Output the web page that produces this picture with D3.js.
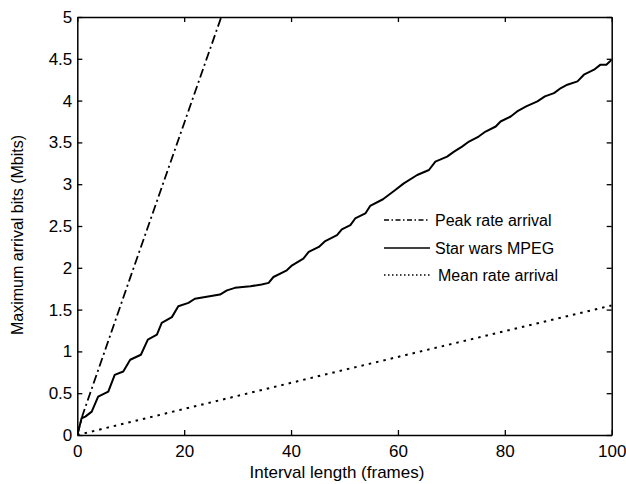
<!DOCTYPE html>
<html>
<head>
  <meta charset="utf-8">
  <title>Maximum arrival bits vs interval length</title>
  <script src="https://d3js.org/d3.v7.min.js"></script>
  <style>
    body { margin: 0; background: #fff; }
    text { font-family: "Liberation Sans", Arial, Helvetica, sans-serif; }
  </style>
</head>
<body>
  <script>
    // Star wars MPEG trace (frames, Mbits)
    let starX = [0, 0.8, 1.5, 2.7, 3.9, 5.8, 7.0, 8.6, 9.9, 11.9, 13.2, 14.9, 15.8, 17.7, 18.9, 20.8, 22,
      26.7, 28, 29.5, 32.4, 34.5, 35.8, 36.7, 39.2, 40.2, 42.3, 43.3, 45.2, 46.4, 48.6, 49.5, 51.1, 52,
      53.9, 54.8, 57.2, 59.5, 61.1, 63.6, 65.8, 67, 69.2, 70.5, 72, 73.3, 75.1, 76.4, 78.3, 79.2, 81.1,
      82.3, 84, 86.1, 87.5, 89.2, 90.5, 91.7, 93.6, 94.8, 96.7, 97.9, 99, 100];
    let starY = [0, 0.2, 0.22, 0.28, 0.46, 0.52, 0.72, 0.76, 0.9, 0.96, 1.14, 1.2, 1.34, 1.41, 1.54, 1.58, 1.63,
      1.68, 1.73, 1.76, 1.78, 1.8, 1.82, 1.89, 1.97, 2.03, 2.11, 2.19, 2.25, 2.32, 2.39, 2.46, 2.51, 2.59,
      2.65, 2.74, 2.82, 2.93, 3.01, 3.11, 3.17, 3.27, 3.33, 3.39, 3.45, 3.51, 3.57, 3.63, 3.69, 3.75, 3.81,
      3.87, 3.93, 3.99, 4.05, 4.09, 4.15, 4.19, 4.23, 4.31, 4.37, 4.43, 4.43, 4.49];

    // Peak rate and mean rate arrival lines
    let peakX = [0, 1, 10, 20, 30];
    let peakY = [0, 0.24, 1.9, 3.73, 5.56];
    let meanX = [0, 50, 100];
    let meanY = [0, 0.78, 1.55];

    let xTicks = [0, 20, 40, 60, 80, 100];
    let yTicks = [0, 0.5, 1, 1.5, 2, 2.5, 3, 3.5, 4, 4.5, 5];

    let legendLabels = ["Peak rate arrival", "Star wars MPEG", "Mean rate arrival"];

    let W = 626, H = 484;
    let margin = { top: 17, right: 14.3, bottom: 49, left: 77.3 };
    let width = W - margin.left - margin.right,
      height = H - margin.top - margin.bottom;

    let svg = d3.select("body").append("svg")
      .attr("width", W)
      .attr("height", H);

    let g = svg.append("g")
      .attr("transform", "translate(" + margin.left + "," + margin.top + ")");

    let x = d3.scaleLinear().domain([0, 100]).range([0, width]);
    let y = d3.scaleLinear().domain([0, 5]).range([height, 0]);

    svg.append("clipPath").attr("id", "plot")
      .append("rect").attr("width", width).attr("height", height);

    let zip = (xs, ys) => xs.map((v, i) => [v, ys[i]]);
    let line = d3.line().x(d => x(d[0])).y(d => y(d[1]));

    let lines = g.append("g").attr("clip-path", "url(#plot)")
      .attr("fill", "none").attr("stroke", "#000");

    lines.append("path")
      .attr("d", line(zip(peakX, peakY)))
      .attr("stroke-width", 1.8)
      .attr("stroke-dasharray", "9,3.5,2,3.5");

    lines.append("path")
      .attr("d", line(zip(starX, starY)))
      .attr("stroke-width", 2)
      .attr("stroke-linejoin", "round");

    lines.append("path")
      .attr("d", line(zip(meanX, meanY)))
      .attr("stroke-width", 2)
      .attr("stroke-dasharray", "2.5,5");

    // axes, ticks pointing inward, on all four sides
    let fmt = d3.format("~g");
    g.append("g")
      .attr("transform", "translate(0," + height + ")")
      .call(d3.axisBottom(x).tickValues(xTicks).tickFormat(fmt).tickSizeInner(-5).tickSizeOuter(0).tickPadding(10));
    g.append("g")
      .call(d3.axisLeft(y).tickValues(yTicks).tickFormat(fmt).tickSizeInner(-5).tickSizeOuter(0).tickPadding(5));
    g.append("g")
      .call(d3.axisTop(x).tickValues(xTicks).tickFormat("").tickSizeInner(-5).tickSizeOuter(0));
    g.append("g")
      .attr("transform", "translate(" + width + ",0)")
      .call(d3.axisRight(y).tickValues(yTicks).tickFormat("").tickSizeInner(-5).tickSizeOuter(0));

    g.selectAll(".domain").attr("stroke", "#000").attr("stroke-width", 1.5);
    g.selectAll(".tick line").attr("stroke", "#000").attr("stroke-width", 1.3);
    g.selectAll(".tick text").attr("font-size", 17).attr("fill", "#000")
      .style("font-family", "'Liberation Sans', Arial, Helvetica, sans-serif");

    // axis titles
    svg.append("text")
      .attr("x", 337).attr("y", 478)
      .attr("text-anchor", "middle")
      .attr("font-size", 17)
      .text("Interval length (frames)");

    svg.append("text")
      .attr("transform", "translate(23,235) rotate(-90)")
      .attr("text-anchor", "middle")
      .attr("font-size", 16)
      .text("Maximum arrival bits (Mbits)");

    // legend
    let legendDash = ["5,2.5,1.5,2.5", null, "1.5,2.5"];
    let legendY = [220, 248, 275];
    let legend = svg.append("g");
    legendLabels.forEach(function(label, i) {
      legend.append("line")
        .attr("x1", 384).attr("x2", 430)
        .attr("y1", legendY[i]).attr("y2", legendY[i])
        .attr("stroke", "#000")
        .attr("stroke-width", i === 1 ? 1.6 : 1.3)
        .attr("stroke-dasharray", legendDash[i]);
      legend.append("text")
        .attr("x", i === 2 ? 438 : 435)
        .attr("y", legendY[i])
        .attr("dy", "0.36em")
        .attr("font-size", 16)
        .text(label);
    });
  </script>
</body>
</html>
